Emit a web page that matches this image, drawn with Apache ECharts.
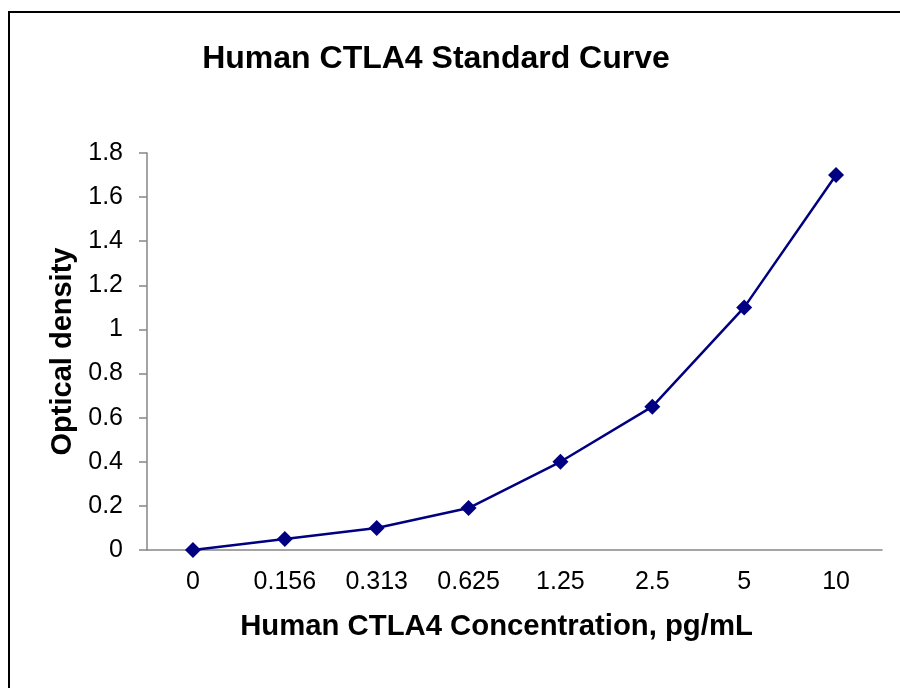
<!DOCTYPE html>
<html>
<head>
<meta charset="utf-8">
<title>Human CTLA4 Standard Curve</title>
<script src="https://cdn.jsdelivr.net/npm/echarts@6/dist/echarts.min.js"></script>
<style>
  html, body { margin: 0; padding: 0; background: #fff; }
  .wrap { position: relative; width: 900px; height: 688px; overflow: hidden; }
  #chart { width: 900px; height: 688px; }
  .frame {
    position: absolute; left: 8px; top: 11px;
    width: 1000px; height: 1000px;
    border: 2px solid #000; pointer-events: none;
  }
</style>
</head>
<body>
<div class="wrap">
  <div id="chart"></div>
  <div class="frame"></div>
</div>
<script>
const concentrations = ['0', '0.156', '0.313', '0.625', '1.25', '2.5', '5', '10']
const opticalDensity = [0, 0.05, 0.1, 0.19, 0.4, 0.65, 1.1, 1.7]
const yTicks = [0, 0.2, 0.4, 0.6, 0.8, 1, 1.2, 1.4, 1.6, 1.8]

const font = '"Liberation Sans", Arial, sans-serif'
const axisGray = '#868686'

const chart = echarts.init(document.getElementById('chart'), null, { renderer: 'canvas' })

chart.setOption({
  animation: false,
  title: {
    text: 'Human CTLA4 Standard Curve',
    left: 431,
    top: 38,
    textAlign: 'center',
    textStyle: { fontFamily: font, fontSize: 32, fontWeight: 'bold', color: '#000' }
  },
  grid: { left: 147, right: 18, top: 153, bottom: 138 },
  xAxis: {
    type: 'category',
    data: concentrations,
    boundaryGap: true,
    name: 'Human CTLA4 Concentration, pg/mL',
    nameLocation: 'middle',
    nameGap: 62,
    nameTextStyle: {
      fontFamily: font, fontSize: 29.3, fontWeight: 'bold', color: '#000',
      padding: [0, 36, 0, 0]
    },
    axisLine: { lineStyle: { color: axisGray, width: 1.5 } },
    axisTick: { length: 8, lineStyle: { color: axisGray, width: 1.5 } },
    axisLabel: { margin: 20, fontFamily: font, fontSize: 25, color: '#000' },
    splitLine: { show: false }
  },
  yAxis: {
    type: 'value',
    min: yTicks[0],
    max: yTicks[yTicks.length - 1],
    interval: 0.2,
    name: 'Optical density',
    nameLocation: 'middle',
    nameGap: 70,
    nameTextStyle: { fontFamily: font, fontSize: 29, fontWeight: 'bold', color: '#000' },
    axisLine: { show: true, lineStyle: { color: axisGray, width: 1.5 } },
    axisTick: { show: true, length: 8, lineStyle: { color: axisGray, width: 1.5 } },
    axisLabel: {
      margin: 24,
      fontFamily: font,
      fontSize: 25,
      color: '#000',
      formatter: v => String(Math.round(v * 10) / 10)
    },
    splitLine: { show: false }
  },
  series: [{
    type: 'line',
    data: opticalDensity,
    symbol: 'diamond',
    symbolSize: 16,
    lineStyle: { color: '#000080', width: 2.5 },
    itemStyle: { color: '#000080' }
  }]
})
</script>
</body>
</html>
